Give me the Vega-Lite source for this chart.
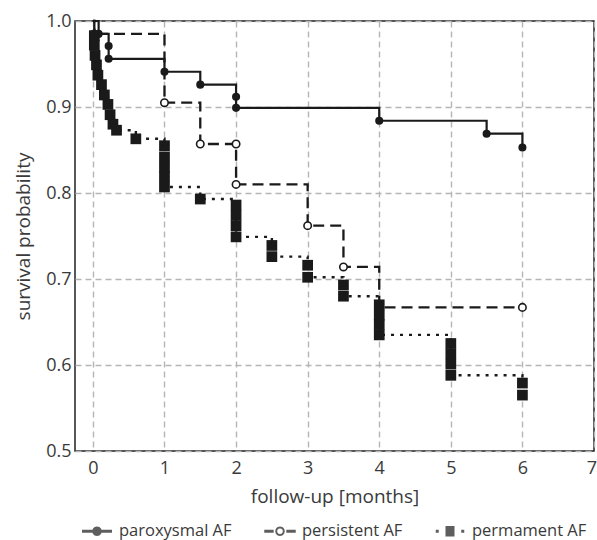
{
  "$schema": "https://vega.github.io/schema/vega-lite/v6.json",
  "width": 519,
  "height": 430,
  "autosize": {"type": "none"},
  "padding": {"left": 75, "top": 21, "right": 3, "bottom": 89},
  "background": "white",
  "config": {
    "view": {"stroke": "#222222", "strokeWidth": 1.5},
    "font": "Open Sans",
    "axis": {
      "labelFont": "Open Sans",
      "titleFont": "Open Sans",
      "labelFontSize": 18,
      "titleFontSize": 19,
      "titleFontWeight": "normal",
      "labelColor": "#3a3a3a",
      "titleColor": "#3a3a3a",
      "labelFlush": false,
      "labelOverlap": false,
      "grid": true,
      "gridColor": "#b5b5b5",
      "gridDash": [6, 4],
      "gridWidth": 1.4,
      "domain": false,
      "ticks": false
    },
    "legend": {
      "labelFont": "Open Sans",
      "labelFontSize": 16.5,
      "labelColor": "#3a3a3a"
    }
  },
  "data": {
    "values": [
      {"g": "paroxysmal AF", "t": 0, "s": 1, "m": 0},
      {"g": "paroxysmal AF", "t": 0.08, "s": 0.985, "m": 1},
      {"g": "paroxysmal AF", "t": 0.22, "s": 0.971, "m": 1},
      {"g": "paroxysmal AF", "t": 0.22, "s": 0.956, "m": 1},
      {"g": "paroxysmal AF", "t": 1, "s": 0.941, "m": 1},
      {"g": "paroxysmal AF", "t": 1.5, "s": 0.926, "m": 1},
      {"g": "paroxysmal AF", "t": 2, "s": 0.912, "m": 1},
      {"g": "paroxysmal AF", "t": 2, "s": 0.899, "m": 1},
      {"g": "paroxysmal AF", "t": 4, "s": 0.884, "m": 1},
      {"g": "paroxysmal AF", "t": 5.5, "s": 0.869, "m": 1},
      {"g": "paroxysmal AF", "t": 6, "s": 0.853, "m": 1},
      {"g": "persistent AF", "t": 0, "s": 1, "m": 0},
      {"g": "persistent AF", "t": 0.02, "s": 0.985, "m": 1},
      {"g": "persistent AF", "t": 1, "s": 0.905, "m": 1},
      {"g": "persistent AF", "t": 1.5, "s": 0.857, "m": 1},
      {"g": "persistent AF", "t": 2, "s": 0.857, "m": 1},
      {"g": "persistent AF", "t": 2, "s": 0.81, "m": 1},
      {"g": "persistent AF", "t": 3, "s": 0.762, "m": 1},
      {"g": "persistent AF", "t": 3.5, "s": 0.714, "m": 1},
      {"g": "persistent AF", "t": 4, "s": 0.667, "m": 1},
      {"g": "persistent AF", "t": 6, "s": 0.667, "m": 1},
      {"g": "permament AF", "t": 0, "s": 1, "m": 0},
      {"g": "permament AF", "t": 0.02, "s": 0.983, "m": 1},
      {"g": "permament AF", "t": 0.02, "s": 0.972, "m": 1},
      {"g": "permament AF", "t": 0.03, "s": 0.96, "m": 1},
      {"g": "permament AF", "t": 0.05, "s": 0.949, "m": 1},
      {"g": "permament AF", "t": 0.07, "s": 0.937, "m": 1},
      {"g": "permament AF", "t": 0.12, "s": 0.926, "m": 1},
      {"g": "permament AF", "t": 0.16, "s": 0.914, "m": 1},
      {"g": "permament AF", "t": 0.21, "s": 0.903, "m": 1},
      {"g": "permament AF", "t": 0.24, "s": 0.891, "m": 1},
      {"g": "permament AF", "t": 0.28, "s": 0.88, "m": 1},
      {"g": "permament AF", "t": 0.33, "s": 0.873, "m": 1},
      {"g": "permament AF", "t": 0.6, "s": 0.863, "m": 1},
      {"g": "permament AF", "t": 1, "s": 0.855, "m": 1},
      {"g": "permament AF", "t": 1, "s": 0.842, "m": 1},
      {"g": "permament AF", "t": 1, "s": 0.83, "m": 1},
      {"g": "permament AF", "t": 1, "s": 0.819, "m": 1},
      {"g": "permament AF", "t": 1, "s": 0.807, "m": 1},
      {"g": "permament AF", "t": 1.5, "s": 0.793, "m": 1},
      {"g": "permament AF", "t": 2, "s": 0.786, "m": 1},
      {"g": "permament AF", "t": 2, "s": 0.774, "m": 1},
      {"g": "permament AF", "t": 2, "s": 0.762, "m": 1},
      {"g": "permament AF", "t": 2, "s": 0.749, "m": 1},
      {"g": "permament AF", "t": 2.5, "s": 0.739, "m": 1},
      {"g": "permament AF", "t": 2.5, "s": 0.726, "m": 1},
      {"g": "permament AF", "t": 3, "s": 0.716, "m": 1},
      {"g": "permament AF", "t": 3, "s": 0.702, "m": 1},
      {"g": "permament AF", "t": 3.5, "s": 0.693, "m": 1},
      {"g": "permament AF", "t": 3.5, "s": 0.68, "m": 1},
      {"g": "permament AF", "t": 4, "s": 0.67, "m": 1},
      {"g": "permament AF", "t": 4, "s": 0.658, "m": 1},
      {"g": "permament AF", "t": 4, "s": 0.647, "m": 1},
      {"g": "permament AF", "t": 4, "s": 0.635, "m": 1},
      {"g": "permament AF", "t": 5, "s": 0.625, "m": 1},
      {"g": "permament AF", "t": 5, "s": 0.613, "m": 1},
      {"g": "permament AF", "t": 5, "s": 0.601, "m": 1},
      {"g": "permament AF", "t": 5, "s": 0.588, "m": 1},
      {"g": "permament AF", "t": 6, "s": 0.579, "m": 1},
      {"g": "permament AF", "t": 6, "s": 0.565, "m": 1}
    ]
  },
  "layer": [
    {
      "mark": {"type": "line", "interpolate": "step-after", "color": "#1a1a1a", "strokeCap": "butt"},
      "encoding": {
        "x": {
          "field": "t",
          "type": "quantitative",
          "scale": {"domain": [-0.25, 7], "nice": false, "zero": false},
          "axis": {"values": [0, 1, 2, 3, 4, 5, 6, 7], "format": "d", "labelPadding": 8, "labelFlush": true, "labelFlushOffset": 2.5, "title": "follow-up [months]", "titlePadding": 10}
        },
        "y": {
          "field": "s",
          "type": "quantitative",
          "scale": {"domain": [0.5, 1], "nice": false, "zero": false},
          "axis": {"values": [0.5, 0.6, 0.7, 0.8, 0.9, 1.0], "format": ".1f", "labelPadding": 4, "title": "survival probability", "titlePadding": 12}
        },
        "detail": {"field": "g"},
        "order": [{"field": "t", "type": "quantitative"}, {"field": "s", "type": "quantitative", "sort": "descending"}],
        "strokeDash": {"field": "g", "type": "nominal", "scale": {"domain": ["paroxysmal AF", "persistent AF", "permament AF"], "range": [[1, 0], [11, 6], [3, 6]]}, "legend": null},
        "strokeWidth": {"field": "g", "type": "nominal", "scale": {"domain": ["paroxysmal AF", "persistent AF", "permament AF"], "range": [2.2, 2.4, 3]}, "legend": null}
      }
    },
    {
      "transform": [{"filter": "datum.g == 'paroxysmal AF' && datum.m == 1"}],
      "mark": {"type": "circle", "size": 65, "color": "#1a1a1a", "opacity": 1},
      "encoding": {"x": {"field": "t", "type": "quantitative"}, "y": {"field": "s", "type": "quantitative"}}
    },
    {
      "transform": [{"filter": "datum.g == 'persistent AF' && datum.m == 1"}],
      "mark": {"type": "point", "shape": "circle", "size": 55, "filled": true, "fill": "white", "stroke": "#1a1a1a", "strokeWidth": 1.6, "opacity": 1},
      "encoding": {"x": {"field": "t", "type": "quantitative"}, "y": {"field": "s", "type": "quantitative"}}
    },
    {
      "transform": [{"filter": "datum.g == 'permament AF' && datum.m == 1"}],
      "mark": {"type": "square", "size": 115, "color": "#1a1a1a", "opacity": 1},
      "encoding": {"x": {"field": "t", "type": "quantitative"}, "y": {"field": "s", "type": "quantitative"}}
    },
    {
      "transform": [{"filter": "datum.m == 0"}],
      "mark": {"type": "point", "filled": true, "color": "#1a1a1a", "size": 1},
      "encoding": {
        "x": {"field": "t", "type": "quantitative"},
        "y": {"field": "s", "type": "quantitative"},
        "shape": {
          "field": "g",
          "type": "nominal",
          "sort": ["paroxysmal AF", "persistent AF", "permament AF"],
          "scale": {
            "range": [
              "M-1,-0.1L-0.3,-0.1L-0.3,0.1L-1,0.1Z M0.3,-0.1L1,-0.1L1,0.1L0.3,0.1Z M0.32,0L0.277,0.16L0.16,0.277L0,0.32L-0.16,0.277L-0.277,0.16L-0.32,0L-0.277,-0.16L-0.16,-0.277L0,-0.32L0.16,-0.277L0.277,-0.16Z",
              "M-1.05,-0.1L-0.42,-0.1L-0.42,0.1L-1.05,0.1Z M0.42,-0.1L1.05,-0.1L1.05,0.1L0.42,0.1Z M0.32,0L0.277,0.16L0.16,0.277L0,0.32L-0.16,0.277L-0.277,0.16L-0.32,0L-0.277,-0.16L-0.16,-0.277L0,-0.32L0.16,-0.277L0.277,-0.16Z M0.19,0L0.165,-0.095L0.095,-0.165L0,-0.19L-0.095,-0.165L-0.165,-0.095L-0.19,0L-0.165,0.095L-0.095,0.165L0,0.19L0.095,0.165L0.165,0.095Z",
              "M-0.95,-0.1L-0.75,-0.1L-0.75,0.1L-0.95,0.1Z M0.75,-0.1L0.95,-0.1L0.95,0.1L0.75,0.1Z M-0.3,-0.35L0.3,-0.35L0.3,0.35L-0.3,0.35Z"
            ]
          },
          "legend": {
            "title": null,
            "orient": "none",
            "legendX": 7,
            "legendY": 495,
            "direction": "horizontal",
            "symbolSize": 900,
            "symbolStrokeWidth": 0,
            "symbolFillColor": "#1a1a1a",
            "labelOffset": 7,
            "columnPadding": 32
          }
        }
      }
    }
  ]
}
